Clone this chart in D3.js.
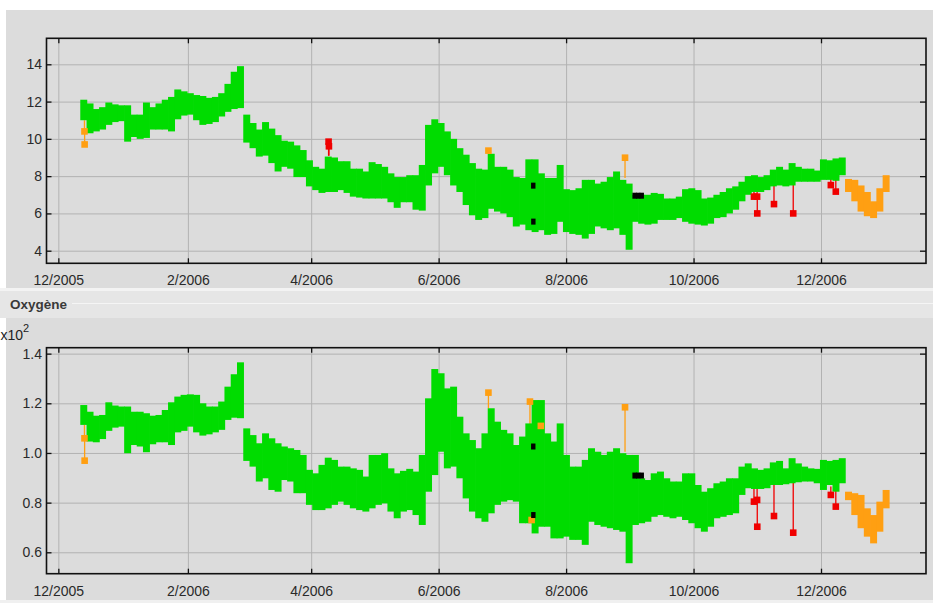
<!DOCTYPE html>
<html>
<head>
<meta charset="utf-8">
<script src="https://cdn.jsdelivr.net/npm/d3@7"></script>
<style>
  body { margin: 0; background: #ffffff; }
  svg { display: block; }
  text { font-family: "Liberation Sans", Arial, sans-serif; }
</style>
</head>
<body>
<svg id="chart" width="933" height="603"></svg>
<script>
// ---- Sampling dates of the continuous record (every 3 days) ----
const sampleDates = [
  "2005-12-13","2005-12-16","2005-12-19","2005-12-22","2005-12-25","2005-12-28","2005-12-31",
  "2006-01-03","2006-01-06","2006-01-09","2006-01-12","2006-01-15","2006-01-18","2006-01-21","2006-01-24","2006-01-27","2006-01-30",
  "2006-02-02","2006-02-05","2006-02-08","2006-02-11","2006-02-14","2006-02-17","2006-02-20","2006-02-23","2006-02-26",
  "2006-03-01","2006-03-04","2006-03-07","2006-03-10","2006-03-13","2006-03-16","2006-03-19","2006-03-22","2006-03-25","2006-03-28","2006-03-31",
  "2006-04-03","2006-04-06","2006-04-09","2006-04-12","2006-04-15","2006-04-18","2006-04-21","2006-04-24","2006-04-27","2006-04-30",
  "2006-05-03","2006-05-06","2006-05-09","2006-05-12","2006-05-15","2006-05-18","2006-05-21","2006-05-24","2006-05-27","2006-05-30",
  "2006-06-02","2006-06-05","2006-06-08","2006-06-11","2006-06-14","2006-06-17","2006-06-20","2006-06-23","2006-06-26","2006-06-29",
  "2006-07-02","2006-07-05","2006-07-08","2006-07-11","2006-07-14","2006-07-17","2006-07-20","2006-07-23","2006-07-26","2006-07-29",
  "2006-08-01","2006-08-04","2006-08-07","2006-08-10","2006-08-13","2006-08-16","2006-08-19","2006-08-22","2006-08-25","2006-08-28","2006-08-31",
  "2006-09-03","2006-09-06","2006-09-09","2006-09-12","2006-09-15","2006-09-18","2006-09-21","2006-09-24","2006-09-27","2006-09-30",
  "2006-10-03","2006-10-06","2006-10-09","2006-10-12","2006-10-15","2006-10-18","2006-10-21","2006-10-24","2006-10-27","2006-10-30",
  "2006-11-02","2006-11-05","2006-11-08","2006-11-11","2006-11-14","2006-11-17","2006-11-20","2006-11-23","2006-11-26","2006-11-29",
  "2006-12-02","2006-12-05","2006-12-08","2006-12-11"
];

// Temperature (°C): highest and lowest reading around each sampling date (validated data)
const tempHigh = [
  12.1,11.9,11.6,11.7,11.95,11.85,11.8,
  11.8,11.3,11.3,11.95,11.7,11.9,12.1,12.25,12.65,12.55,
  12.45,12.35,12.3,12.2,12.25,12.45,12.95,13.6,13.9,
  11.3,10.85,10.5,10.9,10.55,10.2,9.9,9.85,9.65,9.4,8.85,
  8.5,8.4,9.05,9.0,8.8,8.8,8.4,8.4,8.25,8.75,
  8.65,8.5,8.15,7.95,7.95,8.05,8.05,8.6,10.75,11.05,
  10.85,10.4,10.0,9.5,9.15,8.7,8.4,8.35,9.2,8.5,
  8.5,8.35,7.95,7.9,8.9,8.9,8.15,7.9,7.9,8.6,
  7.3,7.25,7.35,7.8,7.8,7.6,7.7,7.95,8.25,7.8,7.6,
  7.0,7.0,7.0,7.1,7.05,6.8,6.8,6.9,7.3,7.35,
  7.25,6.8,6.85,7.0,7.15,7.35,7.45,7.7,8.0,8.05,
  7.95,8.05,8.35,8.5,8.35,8.7,8.5,8.4,8.4,8.3,
  8.9,8.85,8.95,9.0
];
const tempLow = [
  11.0,10.3,10.4,10.5,10.75,10.9,10.95,
  9.85,10.1,10.0,10.05,10.5,10.5,10.5,10.4,11.05,11.25,
  11.3,11.0,10.75,10.8,10.9,11.2,11.45,11.6,11.65,
  9.8,9.5,9.05,9.1,8.7,8.25,8.5,8.4,7.95,7.95,7.45,
  7.25,7.1,7.15,7.15,7.25,7.1,6.9,6.85,6.8,6.8,
  6.8,6.8,6.6,6.3,6.6,6.6,6.2,6.15,7.5,8.15,
  8.5,8.05,7.5,7.15,6.45,5.9,5.65,5.75,6.25,6.1,
  6.0,5.8,5.3,5.4,5.1,5.0,5.1,4.85,4.9,5.55,
  5.0,4.9,4.85,4.65,4.9,5.3,5.2,5.1,5.2,4.85,4.05,
  5.55,5.45,5.4,5.45,5.65,5.65,5.65,5.75,5.55,5.45,
  5.4,5.35,5.45,5.75,5.8,6.0,6.2,6.65,7.0,7.15,
  7.15,7.25,7.45,7.5,7.45,7.5,7.7,7.7,7.7,7.7,
  7.8,7.8,7.75,8.05
];

// Oxygen saturation (%): highest and lowest reading around each sampling date
const oxyHigh = [
  119.3,116.6,115.0,115.3,120.4,119.1,118.7,
  118.7,116.6,116.6,116.0,115.0,115.3,117.3,120.4,122.7,123.4,
  123.6,123.4,120.0,118.7,118.7,120.7,126.7,131.7,136.5,
  109.9,107.2,103.9,107.9,105.9,103.9,102.6,101.9,101.2,99.2,93.2,
  91.8,95.2,98.1,97.2,94.5,94.5,93.8,93.2,90.5,99.2,
  99.2,99.9,93.8,91.8,92.8,93.6,92.5,99.2,122.0,133.8,
  132.1,126.0,126.7,114.6,107.9,105.2,101.9,107.9,118.0,112.6,
  109.3,107.9,103.2,106.6,111.9,121.3,121.3,107.9,104.6,111.9,
  99.2,94.5,94.5,97.2,101.9,100.5,99.2,100.5,101.9,99.9,99.2,
  99.2,89.8,89.1,91.8,92.5,89.8,88.5,88.5,91.8,91.8,
  87.1,84.4,85.8,87.8,88.5,89.8,89.8,94.5,95.8,93.8,
  93.2,93.8,96.2,96.8,93.8,97.9,95.8,94.5,93.8,93.6,
  97.2,96.8,97.2,97.9
];
const oxyLow = [
  111.3,104.6,104.3,105.6,108.9,110.2,110.6,
  99.9,103.2,102.6,100.3,103.5,104.3,104.3,103.2,108.3,108.9,
  110.6,108.3,107.0,107.5,108.3,109.3,113.3,114.2,114.0,
  96.8,94.5,88.5,89.8,85.1,84.4,89.1,88.5,83.8,83.8,79.1,
  77.0,77.0,77.7,79.1,80.4,79.1,77.7,77.0,76.4,77.7,
  79.1,79.7,76.4,73.7,76.4,77.0,75.0,71.0,84.4,91.1,
  100.5,93.8,94.5,89.8,81.7,76.4,73.7,72.3,75.7,79.1,
  80.4,81.0,80.4,71.7,71.7,67.6,70.3,70.3,65.6,65.6,
  66.3,65.0,65.0,63.0,72.3,71.0,70.3,69.7,69.0,68.3,55.6,
  71.0,71.7,72.3,74.3,75.0,74.3,73.7,74.3,73.0,71.7,
  69.7,68.3,70.3,73.7,74.3,75.0,75.7,83.1,85.8,85.5,
  85.5,85.8,87.1,87.1,87.4,87.8,88.2,88.5,88.5,87.8,
  85.1,87.1,84.4,87.8
];

// Last weeks of the record, flagged as doubtful
const tailDates = ["2006-12-14","2006-12-17","2006-12-20","2006-12-23","2006-12-26","2006-12-29","2007-01-01"];
const tempTailHigh = [7.85,7.8,7.5,7.15,6.65,7.35,8.05];
const tempTailLow  = [7.15,6.65,6.1,5.85,5.75,6.1,7.15];
const oxyTailHigh  = [84.4,83.8,83.1,77.7,75.0,80.4,85.1];
const oxyTailLow   = [81.0,75.0,69.7,66.3,63.6,68.3,77.7];

// Individually flagged readings: value, value of the preceding reading, quality flag
const tempFlagDates = ["2005-12-13T12","2005-12-13T14","2006-04-09T08","2006-04-09T12","2006-06-24T20","2006-07-16T07","2006-07-16T08",
  "2006-08-29T05","2006-09-02T19","2006-09-04T12","2006-09-06T05","2006-10-29T22","2006-10-31T10","2006-10-31T12",
  "2006-11-08T12","2006-11-17T17","2006-12-05T17","2006-12-08T02"];
const tempFlagValues = [10.4,9.7,9.85,9.6,9.37,7.49,5.56,8.99,6.95,6.95,6.95,6.9,6.9,6.0,6.5,6.0,7.52,7.17];
const tempFlagFrom   = [11.0,10.4,9.1,9.1,9.2,7.49,5.56,7.9,6.95,6.95,6.95,7.35,7.35,6.9,7.5,7.7,7.9,7.8];
const tempFlagKinds  = ["doubtful","doubtful","bad","bad","doubtful","missing","missing","doubtful","missing","missing","missing",
  "bad","bad","bad","bad","bad","bad","bad"];

const oxyFlagDates = ["2005-12-13T12","2005-12-13T14","2006-06-24T20","2006-07-14T17","2006-07-15T12","2006-07-16T07","2006-07-16T08",
  "2006-07-19T22","2006-08-29T05","2006-09-02T19","2006-09-04T12","2006-09-06T05","2006-10-29T22","2006-10-31T10","2006-10-31T12",
  "2006-11-08T12","2006-11-17T17","2006-12-05T17","2006-12-08T02"];
const oxyFlagValues = [105.9,96.9,124.3,120.7,73.0,102.6,75.0,110.9,118.4,90.9,90.9,90.9,80.4,81.1,70.3,74.6,67.9,83.1,78.4];
const oxyFlagFrom   = [111.3,105.9,118.0,100.0,76.0,102.6,75.0,100.5,100.5,90.9,90.9,90.9,88.5,87.8,81.1,87.8,88.5,86.5,85.0];
const oxyFlagKinds  = ["doubtful","doubtful","doubtful","doubtful","doubtful","missing","missing","doubtful","doubtful",
  "missing","missing","missing","bad","bad","bad","bad","bad","bad","bad"];

// Axis ticks
const monthTicks = ["2005-12-01","2006-02-01","2006-04-01","2006-06-01","2006-08-01","2006-10-01","2006-12-01"];
const tempTicks = [4, 6, 8, 10, 12, 14];
const oxyTicks = [60, 80, 100, 120, 140];

const flagColor = { good: "#00dc00", doubtful: "#ff9f12", bad: "#f00000", missing: "#000000" };

// ---------------------------------------------------------------
const parseDay = d3.timeParse("%Y-%m-%d");
const parseHour = d3.timeParse("%Y-%m-%dT%H");
const svg = d3.select("#chart");

const plotLeft = 46.5, plotRight = 926;
const x = d3.scaleTime()
  .domain([parseHour("2005-11-25T08"), parseHour("2007-01-20T06")])
  .range([plotLeft, plotRight]);

const tickDates = monthTicks.map(parseDay);
const samples = sampleDates.map(parseDay);
const tail = tailDates.map(parseDay);
const halfStep = 1.5 * 864e5;

// Window background
svg.append("rect").attr("width", 933).attr("height", 603).attr("fill", "#ffffff");
svg.append("rect").attr("x", 6).attr("y", 10).attr("width", 927).attr("height", 278).attr("fill", "#dcdcdc");
svg.append("rect").attr("x", 0).attr("y", 288).attr("width", 933).attr("height", 3).attr("fill", "#f3f3f3");
svg.append("rect").attr("x", 0).attr("y", 291).attr("width", 933).attr("height", 27).attr("fill", "#e6e6e6");
svg.append("line").attr("x1", 72).attr("x2", 933).attr("y1", 303.5).attr("y2", 303.5)
  .attr("stroke", "#f5f5f5").attr("stroke-width", 1);
svg.append("rect").attr("x", 6).attr("y", 318).attr("width", 927).attr("height", 282).attr("fill", "#dcdcdc");
svg.append("rect").attr("x", 0).attr("y", 600).attr("width", 933).attr("height", 3).attr("fill", "#f0f0f0");

svg.append("text").attr("x", 10).attr("y", 309)
  .attr("font-size", 13.5).attr("font-weight", "bold").attr("fill", "#3a3a3a")
  .text("Oxygène");

// unit multiplier of the oxygen axis
const mult = svg.append("text").attr("x", 0.5).attr("y", 340).attr("font-size", 14).attr("fill", "#222");
mult.append("tspan").text("x10");
mult.append("tspan").attr("font-size", 11).attr("dy", -8).text("2");

function drawPanel(cfg) {
  const { top, bottom, domain, ticks, fmt, high, low, tHigh, tLow, fDates, fValues, fFrom, fKinds, id, xPad } = cfg;
  const y = d3.scaleLinear().domain(domain).range([bottom, top]);
  const w = plotRight - plotLeft, h = bottom - top;
  const g = svg.append("g");

  g.append("clipPath").attr("id", id).append("rect")
    .attr("x", plotLeft).attr("y", top).attr("width", w).attr("height", h);

  // grid
  g.append("g").attr("transform", `translate(0,${bottom})`)
    .call(d3.axisBottom(x).tickValues(tickDates).tickSize(-h).tickFormat(""))
    .call(s => s.select(".domain").remove())
    .call(s => s.selectAll("line").attr("stroke", "#b2b2b2").attr("stroke-width", 1));
  g.append("g").attr("transform", `translate(${plotLeft},0)`)
    .call(d3.axisLeft(y).tickValues(ticks).tickSize(-w).tickFormat(""))
    .call(s => s.select(".domain").remove())
    .call(s => s.selectAll("line").attr("stroke", "#b2b2b2").attr("stroke-width", 1));

  const data = g.append("g").attr("clip-path", `url(#${id})`);

  // connecting lines of flagged readings
  const flags = fDates.map((d, i) => ({ date: parseHour(d), v: fValues[i], from: fFrom[i], kind: fKinds[i] }));
  data.selectAll("line.flag").data(flags.filter(f => f.kind !== "missing")).join("line")
    .attr("x1", f => x(f.date)).attr("x2", f => x(f.date))
    .attr("y1", f => y(f.from)).attr("y2", f => y(f.v))
    .attr("stroke", f => flagColor[f.kind]).attr("stroke-width", 1.3);

  // validated record: one block per sampling date covering its range
  data.selectAll("rect.good").data(samples.map((d, i) => ({ d, hi: high[i], lo: low[i] }))).join("rect")
    .attr("x", s => x(new Date(+s.d - halfStep)))
    .attr("width", s => x(new Date(+s.d + halfStep)) - x(new Date(+s.d - halfStep)) + 0.7)
    .attr("y", s => y(s.hi)).attr("height", s => y(s.lo) - y(s.hi))
    .attr("fill", flagColor.good);

  // doubtful tail of the record
  data.selectAll("rect.tail").data(tail.map((d, i) => ({ d, hi: tHigh[i], lo: tLow[i] }))).join("rect")
    .attr("x", s => x(new Date(+s.d - halfStep)))
    .attr("width", s => x(new Date(+s.d + halfStep)) - x(new Date(+s.d - halfStep)) + 0.7)
    .attr("y", s => y(s.hi)).attr("height", s => y(s.lo) - y(s.hi))
    .attr("fill", flagColor.doubtful);

  // flagged markers (readings without a flag are drawn as thin black marks)
  data.selectAll("rect.flag").data(flags).join("rect")
    .attr("x", f => x(f.date) - (f.kind === "missing" ? 2.2 : 3.3))
    .attr("y", f => y(f.v) - (f.kind === "missing" ? 3 : 3.3))
    .attr("width", f => f.kind === "missing" ? 4.4 : 6.6)
    .attr("height", f => f.kind === "missing" ? 6 : 6.6)
    .attr("fill", f => flagColor[f.kind]);

  // frame
  g.append("rect").attr("x", plotLeft).attr("y", top).attr("width", w).attr("height", h)
    .attr("fill", "none").attr("stroke", "#111").attr("stroke-width", 1.6);

  const styleAxis = s => {
    s.select(".domain").remove();
    s.selectAll("line").attr("stroke", "#111").attr("stroke-width", 1.3);
    s.selectAll("text").attr("font-size", 14).attr("fill", "#2a2a2a")
      .attr("font-family", '"Liberation Sans", Arial, sans-serif');
  };

  g.append("g").attr("transform", `translate(0,${bottom})`)
    .call(d3.axisBottom(x).tickValues(tickDates).tickSize(-5).tickPadding(xPad).tickFormat(d3.timeFormat("%-m/%Y")))
    .call(styleAxis);
  g.append("g").attr("transform", `translate(0,${top})`)
    .call(d3.axisTop(x).tickValues(tickDates).tickSize(-5).tickFormat(""))
    .call(styleAxis);
  g.append("g").attr("transform", `translate(${plotLeft},0)`)
    .call(d3.axisLeft(y).tickValues(ticks).tickSize(-5).tickPadding(4.5).tickFormat(fmt))
    .call(styleAxis);
  g.append("g").attr("transform", `translate(${plotRight},0)`)
    .call(d3.axisRight(y).tickValues(ticks).tickSize(-6).tickFormat(""))
    .call(styleAxis);
}

drawPanel({
  id: "clipTemp", top: 38.3, bottom: 263.3, domain: [3.324, 15.395], ticks: tempTicks,
  fmt: d3.format("d"), high: tempHigh, low: tempLow, tHigh: tempTailHigh, tLow: tempTailLow,
  fDates: tempFlagDates, fValues: tempFlagValues, fFrom: tempFlagFrom, fKinds: tempFlagKinds, xPad: 11.5
});

drawPanel({
  id: "clipOxy", top: 347.7, bottom: 573.7, domain: [51.38, 142.39], ticks: oxyTicks,
  fmt: v => (v / 100).toFixed(1), high: oxyHigh, low: oxyLow, tHigh: oxyTailHigh, tLow: oxyTailLow,
  fDates: oxyFlagDates, fValues: oxyFlagValues, fFrom: oxyFlagFrom, fKinds: oxyFlagKinds, xPad: 12.5
});
</script>
</body>
</html>
